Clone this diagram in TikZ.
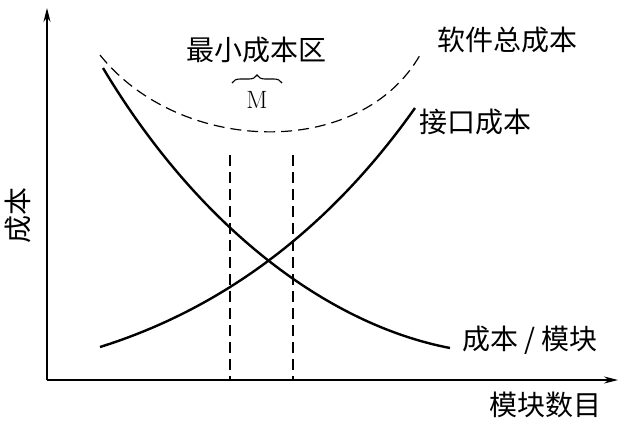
\documentclass[tikz,border=0pt]{standalone}
\usepackage{fontspec}
\newfontfamily\cjk{Noto Sans CJK SC}
\usetikzlibrary{arrows.meta,decorations.pathreplacing}
\begin{document}
\begin{tikzpicture}[x=1pt,y=-1pt,
  lbl/.style={font=\cjk\fontsize{28}{30}\selectfont,inner sep=0pt},
  curve/.style={line width=2.4pt},
  axis/.style={line width=1.2pt,-{Stealth[length=14pt,width=7pt]}},
  dsh/.style={line width=1.2pt,dash pattern=on 11pt off 6pt}]
\useasboundingbox (0,0) rectangle (635,426);
\coordinate (O) at (47,380);
\coordinate (Y) at (47,8);
\coordinate (X) at (618,380);
\draw[axis] (O) -- (Y);
\draw[axis] (O) -- (X);
\node[lbl,rotate=90] (ylab) at (18,215) {成本};
\node[lbl] (xlab) at (545,405) {模块数目};
\draw[dsh] (100,55) .. controls (180,155) and (360,160) .. (420,55);
\draw[curve] (103,68) .. controls (200,230) and (330,325) .. (450,348);
\draw[curve] (100,347) .. controls (250,300) and (350,200) .. (415,108);
\coordinate (a1) at (230,155); \coordinate (a2) at (230,380);
\coordinate (b1) at (293,155); \coordinate (b2) at (293,380);
\draw[dsh] (a1) -- (a2);
\draw[dsh] (b1) -- (b2);
\node[lbl] (zone) at (256,50) {最小成本区};
\node[font=\fontsize{25}{27}\selectfont,inner sep=0pt] (M) at (257,100) {M};
\draw[decorate,decoration={brace,amplitude=8pt},line width=1.1pt] (232,83) -- (282,83);
\node[lbl] (tot) at (507,40) {软件总成本};
\node[lbl] (itf) at (475,122) {接口成本};
\node[lbl] (cpm) at (530,340) {成本 / 模块};
\end{tikzpicture}
\end{document}
